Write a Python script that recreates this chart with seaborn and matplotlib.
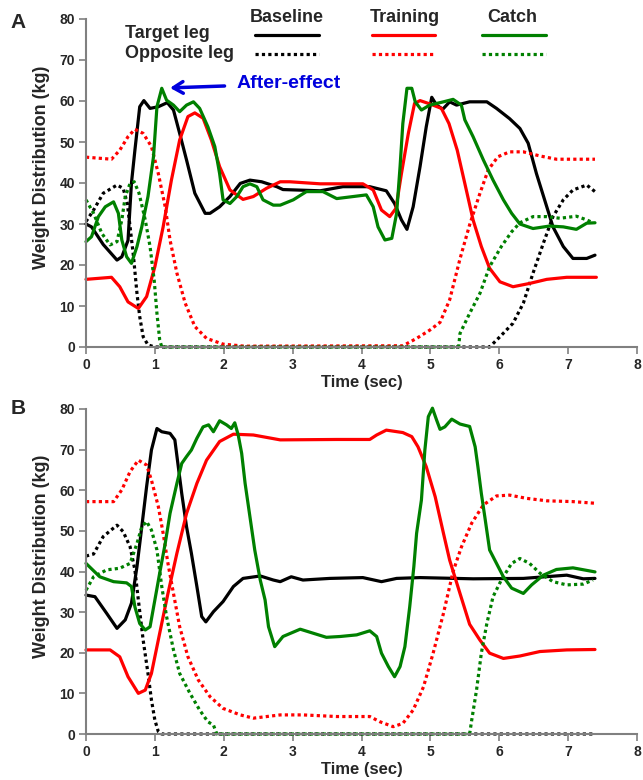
import pandas as pd
import seaborn as sns
import matplotlib.pyplot as plt

# ==========================================
# data: (time in sec, weight in kg)
# ==========================================
# panel A
a_base_target = [(0, 30), (0.08, 29.3), (0.25, 25), (0.45, 21.2), (0.52, 22), (0.61, 26), (0.66, 40), (0.71, 48),
                 (0.78, 58.6), (0.84, 60.1), (0.93, 58.2), (1.05, 58.6), (1.18, 59.6), (1.27, 57.8), (1.36, 52.1),
                 (1.46, 45.6), (1.58, 37.5), (1.73, 32.6), (1.80, 32.6), (1.94, 34.2), (2.09, 36.7), (2.24, 39.9),
                 (2.38, 40.7), (2.55, 40.3), (2.77, 39.1), (2.86, 38.4), (3.40, 38.1), (3.73, 39.1), (4.12, 39.1),
                 (4.36, 38.1), (4.48, 35), (4.58, 31), (4.66, 28.7), (4.75, 34.2), (4.85, 44), (4.94, 53.7),
                 (5.02, 60.9), (5.09, 59), (5.18, 58), (5.28, 59.8), (5.38, 59), (5.57, 59.8), (5.82, 59.8),
                 (5.96, 58.2), (6.15, 55.7), (6.30, 53.3), (6.42, 49.7), (6.54, 42.3), (6.69, 34.2), (6.78, 29.3),
                 (6.93, 24.5), (7.07, 21.6), (7.27, 21.6), (7.39, 22.4)]
a_base_opposite = [(0, 30.6), (0.11, 33.4), (0.25, 37.5), (0.45, 39.5), (0.54, 38.7), (0.60, 35), (0.64, 29.3),
                   (0.69, 22), (0.74, 13.1), (0.78, 7.4), (0.83, 2.5), (0.90, 0.5), (1.0, 0), (5.86, 0), (6.01, 2.5),
                   (6.20, 5.8), (6.35, 10.7), (6.49, 18), (6.64, 25.3), (6.78, 31.8), (6.93, 35.9), (7.07, 38.3),
                   (7.27, 39.5), (7.39, 37.9)]
a_train_target = [(0, 16.5), (0.37, 17), (0.49, 14.7), (0.61, 11), (0.76, 9.4), (0.88, 12.3), (1.0, 19.6),
                  (1.12, 29.3), (1.24, 40.7), (1.36, 50.5), (1.48, 56.2), (1.58, 57.1), (1.70, 55.8), (1.82, 50.5),
                  (1.94, 44), (2.09, 38.3), (2.28, 36), (2.43, 36.7), (2.62, 38.7), (2.82, 40.3), (2.96, 40.3),
                  (3.40, 39.8), (4.02, 39.8), (4.17, 38.3), (4.29, 33.4), (4.41, 31.8), (4.50, 33.8), (4.58, 42.3),
                  (4.68, 52.1), (4.77, 59.4), (4.85, 60.1), (4.99, 59.3), (5.16, 58.2), (5.27, 54.5), (5.39, 48),
                  (5.50, 39.9), (5.62, 31), (5.74, 24.5), (5.86, 19.2), (6.01, 15.9), (6.20, 14.7), (6.44, 15.5),
                  (6.69, 16.5), (6.98, 17), (7.41, 17)]
a_train_opposite = [(0, 46.3), (0.37, 45.8), (0.49, 48), (0.61, 51.3), (0.71, 53.1), (0.83, 52.1), (0.95, 48.9),
                    (1.05, 42.3), (1.15, 34.2), (1.22, 26.1), (1.32, 18), (1.44, 10.7), (1.58, 5), (1.75, 2.1),
                    (1.99, 0.7), (2.3, 0.2), (4.6, 0.3), (4.80, 2.1), (4.99, 4.1), (5.14, 6), (5.28, 11.5),
                    (5.43, 21.5), (5.57, 29.8), (5.72, 37.5), (5.84, 43.2), (5.98, 46.4), (6.15, 47.6), (6.35, 47.6),
                    (6.59, 46.6), (6.83, 45.8), (7.17, 45.8), (7.39, 45.8)]
a_catch_target = [(0, 25.7), (0.08, 26.9), (0.18, 31.8), (0.28, 34.2), (0.40, 35.4), (0.47, 32.6), (0.52, 26.1),
                  (0.59, 22), (0.66, 20.4), (0.74, 24.5), (0.81, 29.3), (0.90, 36.7), (0.98, 46.4), (1.03, 58.6),
                  (1.10, 63.1), (1.17, 60.2), (1.27, 59), (1.36, 57.4), (1.46, 59), (1.56, 59.8), (1.65, 58.2),
                  (1.77, 53.7), (1.87, 48.9), (1.94, 42.3), (1.99, 35.9), (2.09, 35), (2.19, 36.7), (2.28, 39.1),
                  (2.38, 39.8), (2.48, 39.1), (2.57, 35.9), (2.72, 34.6), (2.82, 34.6), (3.01, 35.9), (3.20, 37.9),
                  (3.44, 37.9), (3.64, 36.2), (3.88, 36.7), (4.07, 37.1), (4.17, 34.2), (4.24, 29.3), (4.34, 26.1),
                  (4.44, 26.5), (4.51, 32.6), (4.56, 44), (4.60, 54.5), (4.66, 63.1), (4.73, 63.1), (4.78, 59.8),
                  (4.87, 57.8), (4.99, 59), (5.19, 59.8), (5.33, 60.4), (5.45, 59), (5.50, 55.4), (5.62, 51.3),
                  (5.77, 45.6), (5.91, 40.7), (6.06, 35.9), (6.18, 32.6), (6.30, 30), (6.49, 28.9), (6.73, 29.5),
                  (6.93, 29.3), (7.12, 28.7), (7.27, 30.2), (7.39, 30.3)]
a_catch_opposite = [(0, 35.9), (0.11, 32.6), (0.23, 27.7), (0.35, 24.9), (0.45, 25.7), (0.52, 31), (0.57, 36.7),
                    (0.64, 39.9), (0.70, 40.3), (0.77, 37.5), (0.86, 31), (0.93, 24.5), (0.99, 16.3), (1.03, 8.2),
                    (1.07, 1.7), (1.10, 0), (5.41, 0), (5.43, 3.3), (5.57, 8.2), (5.72, 13.1), (5.86, 19.6),
                    (6.03, 24.5), (6.18, 28.1), (6.30, 30.3), (6.49, 31.8), (6.69, 31.8), (6.88, 31.4), (7.12, 31.9),
                    (7.27, 31), (7.36, 30.3)]

# panel B
b_base_target = [(0, 34.2), (0.13, 33.8), (0.30, 29.7), (0.45, 26), (0.57, 28.1), (0.66, 32.2), (0.74, 41.2),
                 (0.81, 51), (0.88, 60.9), (0.95, 69.9), (1.03, 75.2), (1.10, 74.4), (1.22, 74), (1.29, 72.4),
                 (1.34, 65.8), (1.39, 59.2), (1.46, 51), (1.53, 44.5), (1.61, 36.3), (1.68, 28.9), (1.74, 27.6),
                 (1.85, 30.1), (1.99, 32.6), (2.14, 36.3), (2.28, 38.3), (2.53, 38.9), (2.72, 37.9), (2.82, 37.5),
                 (2.98, 38.7), (3.15, 37.9), (3.54, 38.3), (4.02, 38.5), (4.29, 37.5), (4.51, 38.3), (4.85, 38.5),
                 (5.62, 38.2), (6.35, 38.3), (6.98, 39.1), (7.22, 38.2), (7.39, 38.3)]
b_base_opposite = [(0, 43.8), (0.11, 44.3), (0.25, 48.6), (0.45, 51.4), (0.54, 49.8), (0.64, 46.1), (0.71, 40.4),
                   (0.76, 33), (0.83, 23.1), (0.90, 14.9), (0.95, 8.4), (1.0, 3.4), (1.05, 0.6), (1.10, 0), (7.39, 0)]
b_train_target = [(0, 20.7), (0.35, 20.7), (0.49, 19), (0.61, 14.1), (0.76, 10), (0.86, 10.8), (0.95, 14.9),
                  (1.07, 24.8), (1.19, 34.6), (1.32, 44.5), (1.46, 54.3), (1.61, 61.7), (1.75, 67.4), (1.94, 72),
                  (2.14, 73.8), (2.43, 73.6), (2.82, 72.4), (3.64, 72.5), (4.12, 72.5), (4.22, 73.6), (4.36, 74.8),
                  (4.60, 74.2), (4.73, 73.2), (4.82, 70.7), (4.94, 65.8), (5.07, 58.4), (5.19, 49.4), (5.28, 42.8),
                  (5.43, 34.6), (5.57, 27), (5.72, 23.1), (5.86, 19.9), (6.06, 18.6), (6.30, 19.2), (6.59, 20.3),
                  (6.98, 20.7), (7.39, 20.8)]
b_train_opposite = [(0, 57.2), (0.40, 57.2), (0.52, 60.1), (0.64, 64.6), (0.76, 67.4), (0.88, 66.2), (0.95, 62.5),
                    (1.05, 56), (1.12, 49.4), (1.19, 42), (1.27, 34.6), (1.36, 26.4), (1.48, 19), (1.63, 13.3),
                    (1.80, 9.2), (1.99, 6.3), (2.24, 4.7), (2.43, 3.9), (2.82, 4.7), (3.15, 4.7), (3.64, 4.3),
                    (4.12, 4.3), (4.27, 3.0), (4.46, 1.8), (4.60, 2.6), (4.75, 5.9), (4.90, 11.6), (5.04, 19.9),
                    (5.19, 29.7), (5.33, 40), (5.45, 46), (5.60, 51.9), (5.77, 56.4), (5.96, 58.6), (6.15, 58.8),
                    (6.40, 58), (6.69, 57.4), (7.07, 57.2), (7.39, 56.8)]
b_catch_target = [(0, 42), (0.20, 38.7), (0.40, 37.5), (0.59, 37.2), (0.66, 36.3), (0.71, 31.3), (0.78, 27.2),
                  (0.86, 25.6), (0.93, 26.4), (1.0, 33), (1.07, 39.6), (1.15, 46.9), (1.22, 54.3), (1.32, 61.7),
                  (1.39, 66.6), (1.46, 68.3), (1.53, 69.9), (1.61, 72.8), (1.70, 75.6), (1.78, 76.1), (1.85, 74.4),
                  (1.94, 77.1), (2.04, 76.1), (2.11, 75.2), (2.16, 76.6), (2.21, 73.6), (2.26, 69.1), (2.31, 61.7),
                  (2.38, 53.5), (2.45, 45.3), (2.53, 37.9), (2.60, 33), (2.65, 26.4), (2.74, 21.5), (2.86, 24),
                  (3.11, 25.8), (3.30, 24.8), (3.49, 23.8), (3.69, 24), (3.93, 24.4), (4.12, 25.4), (4.22, 24),
                  (4.29, 19.9), (4.39, 16.6), (4.48, 14.1), (4.56, 16.6), (4.63, 21.5), (4.70, 31.3), (4.76, 41.2),
                  (4.80, 49.4), (4.87, 57.6), (4.92, 69.9), (4.97, 78.1), (5.03, 80.2), (5.09, 77.3), (5.14, 75),
                  (5.21, 75.6), (5.31, 77.5), (5.43, 76.3), (5.57, 75.7), (5.65, 70.7), (5.69, 65.8), (5.74, 59.2),
                  (5.79, 53.5), (5.86, 45.3), (5.96, 42), (6.06, 38.7), (6.18, 35.9), (6.35, 34.6), (6.47, 36.7),
                  (6.64, 39.1), (6.83, 40.5), (7.07, 40.9), (7.39, 39.9)]
b_catch_opposite = [(0, 35.4), (0.11, 38.7), (0.30, 40.4), (0.49, 40.8), (0.64, 42), (0.74, 46.9), (0.81, 51),
                    (0.88, 52.3), (0.95, 50.2), (1.03, 45.3), (1.10, 36.3), (1.17, 28.9), (1.27, 20.7), (1.36, 14.9),
                    (1.51, 10), (1.65, 5.9), (1.77, 3.0), (1.85, 2.2), (1.90, 0), (5.57, 0), (5.60, 3.4), (5.67, 10.8),
                    (5.74, 19.9), (5.82, 27.2), (5.91, 33.8), (6.03, 37.9), (6.18, 42), (6.30, 43.2), (6.44, 42),
                    (6.59, 39.6), (6.78, 37.5), (6.98, 36.7), (7.22, 36.9), (7.36, 37.9)]

conditions = ['Baseline', 'Training', 'Catch']
legs = ['Target leg', 'Opposite leg']
colors = {'Baseline': 'black', 'Training': '#ff0000', 'Catch': '#008000'}
dash_map = {'Target leg': '', 'Opposite leg': (1, 1)}

panel_a = {('Baseline', 'Target leg'): a_base_target, ('Baseline', 'Opposite leg'): a_base_opposite,
           ('Training', 'Target leg'): a_train_target, ('Training', 'Opposite leg'): a_train_opposite,
           ('Catch', 'Target leg'): a_catch_target, ('Catch', 'Opposite leg'): a_catch_opposite}
panel_b = {('Baseline', 'Target leg'): b_base_target, ('Baseline', 'Opposite leg'): b_base_opposite,
           ('Training', 'Target leg'): b_train_target, ('Training', 'Opposite leg'): b_train_opposite,
           ('Catch', 'Target leg'): b_catch_target, ('Catch', 'Opposite leg'): b_catch_opposite}


def to_long(panel):
    rows = []
    for (cond, leg), pts in panel.items():
        for t, w in pts:
            rows.append({'Time': t, 'Weight': w, 'Condition': cond, 'Leg': leg})
    return pd.DataFrame(rows)


# ==========================================
# style
# ==========================================
sns.set_style('ticks')
plt.rcParams['font.family'] = ['Liberation Sans', 'DejaVu Sans']
plt.rcParams['font.weight'] = 'bold'

fig = plt.figure(figsize=(6.43, 7.8), dpi=100)
ax_a = fig.add_axes([86 / 643, 1 - 347 / 780, 551 / 643, 328 / 780])
ax_b = fig.add_axes([86 / 643, 1 - 734 / 780, 551 / 643, 325 / 780])

for ax, panel in [(ax_a, panel_a), (ax_b, panel_b)]:
    sns.lineplot(data=to_long(panel), x='Time', y='Weight', hue='Condition', style='Leg',
                 hue_order=conditions, style_order=legs, palette=colors, dashes=dash_map,
                 estimator=None, sort=False, legend=False, lw=2.3, clip_on=False, ax=ax)
    ax.set_xlim(0, 8)
    ax.set_ylim(0, 80)
    ax.set_xticks(range(0, 9))
    ax.set_yticks(range(0, 81, 10))
    sns.despine(ax=ax)
    for s in ['left', 'bottom']:
        ax.spines[s].set_color('#808080')
        ax.spines[s].set_linewidth(1.5)
    ax.tick_params(direction='out', length=5, width=1.2, color='#808080', labelsize=10, pad=3)
    for lab in ax.get_xticklabels() + ax.get_yticklabels():
        lab.set_fontweight('bold')
    ax.set_xlabel('Time (sec)', fontsize=12, fontweight='bold', va='center')
    ax.set_ylabel('Weight Distribution (kg)', fontsize=13, fontweight='bold')
    ax.yaxis.set_label_coords(-0.066, 0.547)
    ax.xaxis.set_label_coords(0.501, -36 / 328)

# legend drawn by hand, like the original
header_x = [0.365, 0.579, 0.774]
sample_x = [(0.307, 0.423), (0.519, 0.633), (0.719, 0.835)]
for cond, hx, (x0, x1) in zip(conditions, header_x, sample_x):
    ax_a.text(hx, 1.006, cond, transform=ax_a.transAxes, ha='center', va='center',
              fontsize=13, fontweight='bold')
    ax_a.plot([x0, x1], [0.951, 0.951], transform=ax_a.transAxes, color=colors[cond],
              lw=2.3, clip_on=False)
    ax_a.plot([x0, x1], [0.893, 0.893], transform=ax_a.transAxes, color=colors[cond],
              lw=2.3, dashes=(1, 1), clip_on=False)
ax_a.text(0.071, 0.957, 'Target leg', transform=ax_a.transAxes, ha='left', va='center',
          fontsize=13, fontweight='bold')
ax_a.text(0.071, 0.896, 'Opposite leg', transform=ax_a.transAxes, ha='left', va='center',
          fontsize=13, fontweight='bold')

# after-effect arrow
ax_a.annotate('After-effect', xy=(1.22, 63.2), xytext=(2.18, 64.2), color='#0000dd',
              fontsize=14, fontweight='bold', ha='left', va='center',
              arrowprops=dict(arrowstyle='->, head_length=0.5, head_width=0.3', color='#0000dd',
                              lw=2.5, shrinkA=6, shrinkB=0))

fig.text(18 / 643, 1 - 22 / 780, 'A', fontsize=15, fontweight='bold', ha='center', va='center')
fig.text(18 / 643, 1 - 408 / 780, 'B', fontsize=15, fontweight='bold', ha='center', va='center')

plt.savefig('out.png', dpi=100)
